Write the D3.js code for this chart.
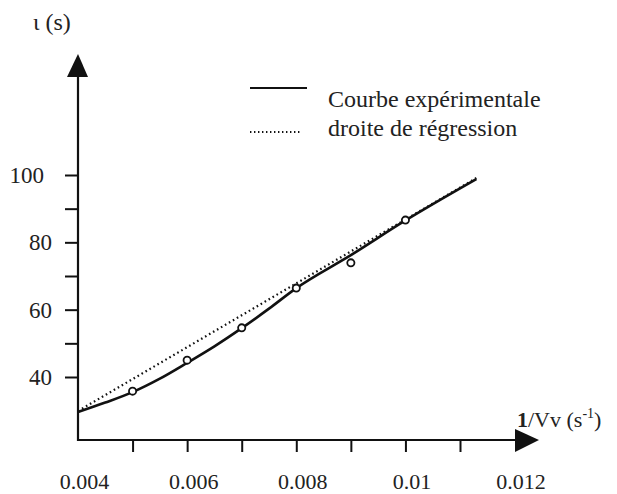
<!DOCTYPE html>
<html>
<head>
<meta charset="utf-8">
<script src="https://cdn.jsdelivr.net/npm/d3@7"></script>
<style>
  body { margin: 0; background: #fff; }
  svg { display: block; font-family: "Liberation Serif", "Times New Roman", serif; }
</style>
</head>
<body>
<div id="chart"></div>
<script>
const width = 617, height = 494

// measured points (markers)
const pointX = [0.005, 0.006, 0.007, 0.008, 0.009, 0.010]
const pointY = [35.8, 45, 54.6, 66.4, 73.9, 86.6]

// experimental curve (solid)
const curveX = [0.004, 0.0045, 0.005, 0.0055, 0.006, 0.0065, 0.007, 0.0075, 0.008, 0.009, 0.010, 0.0113]
const curveY = [29.6, 32.4, 35.5, 39.5, 44.2, 49.1, 54.5, 60.3, 66.4, 76.2, 86.5, 98.8]

// regression line (dotted)
const regX = [0.004, 0.0113]
const regY = [29.6, 98.8]

const xMinorTicks = [0.005, 0.006, 0.007, 0.008, 0.009, 0.010, 0.011]
const xLabels = [0.004, 0.006, 0.008, 0.010, 0.012]
const yTicks = [40, 50, 60, 70, 80, 90, 100]
const yLabels = [40, 60, 80, 100]
const legendItems = ["Courbe expérimentale", "droite de régression"]

const svg = d3.select('#chart')
    .append('svg')
    .attr('width', width)
    .attr('height', height)

const x = d3.scaleLinear()
    .domain([0.004, 0.011])
    .range([78, 460])

const y = d3.scaleLinear()
    .domain([40, 100])
    .range([377, 175])

const axisY = 440

// x axis: unlabeled ticks
svg.append('g')
    .attr('transform', `translate(0,${axisY})`)
    .call(d3.axisBottom(x).tickValues(xMinorTicks).tickSize(12).tickFormat(''))
    .call(g => g.select('.domain').remove())
    .call(g => g.selectAll('line').attr('stroke', '#111').attr('stroke-width', 2))

// x axis: labels
svg.append('g')
    .attr('transform', `translate(6,${axisY})`)
    .call(d3.axisBottom(x).tickValues(xLabels).tickSize(0).tickPadding(33)
        .tickFormat(d => d === 0.01 ? '0.01' : d3.format('.3f')(d)))
    .call(g => g.select('.domain').remove())
    .call(g => g.selectAll('text')
        .attr('font-family', '"Liberation Serif", serif')
        .attr('font-size', 22)
        .attr('fill', '#222'))

// y axis ticks
svg.append('g')
    .attr('transform', `translate(${x(0.004)},0)`)
    .call(d3.axisLeft(y).tickValues(yTicks).tickSize(13).tickPadding(13)
        .tickFormat(d => yLabels.includes(d) ? d : ''))
    .call(g => g.select('.domain').remove())
    .call(g => g.selectAll('line').attr('stroke', '#111').attr('stroke-width', 2))
    .call(g => g.selectAll('text')
        .attr('font-family', '"Liberation Serif", serif')
        .attr('font-size', 23)
        .attr('fill', '#222')
        .attr('dx', d => d === 100 ? -8 : 0))

// axis lines with arrows
const x0 = x(0.004)
svg.append('line')
    .attr('x1', x0).attr('y1', axisY).attr('x2', 518).attr('y2', axisY)
    .attr('stroke', '#111').attr('stroke-width', 2.2)
svg.append('line')
    .attr('x1', x0).attr('y1', axisY + 1).attr('x2', x0).attr('y2', 74)
    .attr('stroke', '#111').attr('stroke-width', 2.2)

svg.append('path')
    .attr('d', `M515,429 L539,440 L515,452 Z`)
    .attr('fill', '#111')
svg.append('path')
    .attr('d', `M${x0 - 11},77 L${x0},54 L${x0 + 10},77 Z`)
    .attr('fill', '#111')

// axis titles
svg.append('text')
    .attr('x', 33).attr('y', 30)
    .attr('font-size', 24)
    .attr('fill', '#222')
    .text('ι (s)')

const xt = svg.append('text')
    .attr('x', 517).attr('y', 427)
    .attr('font-size', 22)
    .attr('fill', '#222')
xt.append('tspan').attr('font-weight', 'bold').text('1')
xt.append('tspan').text('/Vv (s')
xt.append('tspan').attr('font-size', 14).attr('dy', -9).text('-1')
xt.append('tspan').attr('dy', 9).text(')')

// regression line
const regData = regX.map((d, i) => ({ x: d, y: regY[i] }))
svg.append('path')
    .datum(regData)
    .attr('fill', 'none')
    .attr('stroke', '#111')
    .attr('stroke-width', 2.2)
    .attr('stroke-dasharray', '1.6,3')
    .attr('transform', 'translate(0,-1)')
    .attr('d', d3.line().x(d => x(d.x)).y(d => y(d.y)))

// experimental curve
const curveData = curveX.map((d, i) => ({ x: d, y: curveY[i] }))
svg.append('path')
    .datum(curveData)
    .attr('fill', 'none')
    .attr('stroke', '#111')
    .attr('stroke-width', 2.6)
    .attr('d', d3.line().x(d => x(d.x)).y(d => y(d.y)).curve(d3.curveMonotoneX))

// markers
svg.selectAll('.pt')
    .data(pointX.map((d, i) => ({ x: d, y: pointY[i] })))
    .join('circle')
    .attr('class', 'pt')
    .attr('cx', d => x(d.x))
    .attr('cy', d => y(d.y))
    .attr('r', 3.6)
    .attr('fill', '#fff')
    .attr('stroke', '#111')
    .attr('stroke-width', 1.8)

// legend
const legend = svg.append('g')
legend.selectAll('line')
    .data(legendItems)
    .join('line')
    .attr('x1', 250).attr('x2', (d, i) => i === 0 ? 307 : 302)
    .attr('y1', (d, i) => 88 + i * 44).attr('y2', (d, i) => 88 + i * 44)
    .attr('stroke', '#111')
    .attr('stroke-width', (d, i) => i === 0 ? 2 : 1.8)
    .attr('stroke-dasharray', (d, i) => i === 0 ? null : '1.4,2.6')
legend.selectAll('text')
    .data(legendItems)
    .join('text')
    .attr('x', 328)
    .attr('y', (d, i) => 107 + i * 29)
    .attr('font-size', 24)
    .attr('fill', '#222')
    .text(d => d)
</script>
</body>
</html>
